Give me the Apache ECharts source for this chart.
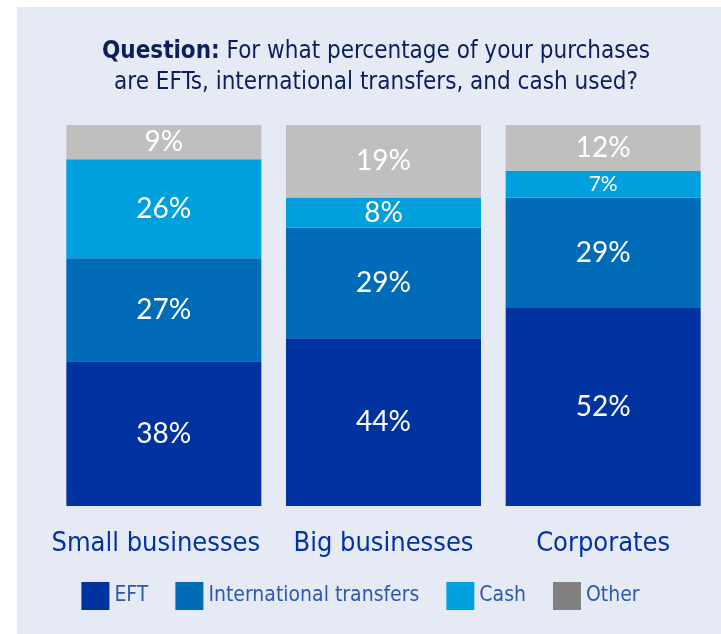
<!DOCTYPE html>
<html>
<head>
<meta charset="utf-8">
<script src="https://cdn.jsdelivr.net/npm/echarts@6/dist/echarts.min.js"></script>
<style>
  html, body { margin: 0; padding: 0; background: #ffffff; }
  #chart { width: 721px; height: 634px; }
</style>
</head>
<body>
<div id="chart"></div>
<script>
// Survey segments and their shares (percent of purchases)
const categories = ['Small businesses', 'Big businesses', 'Corporates'];
const eft = [38, 44, 52];
const international = [27, 29, 29];
const cash = [26, 8, 7];
const other = [9, 19, 12];

const seriesNames = ['EFT', 'International transfers', 'Cash', 'Other'];
const barColors = ['#0033a0', '#006bb6', '#00a0df', '#bfbfbf'];
const legendColors = ['#0033a0', '#006bb6', '#00a0df', '#808080'];
const seriesValues = [eft, international, cash, other];

const chart = echarts.init(document.getElementById('chart'), null, { renderer: 'canvas' });

const labelFont = 'Lato, "Open Sans", sans-serif';
const narrowFont = '"Liberation Sans Narrow", "DejaVu Sans Condensed", "Roboto", sans-serif';

const series = seriesNames.map((name, i) => ({
  name: name,
  type: 'bar',
  stack: 'total',
  barWidth: 195,
  itemStyle: { color: barColors[i] },
  label: {
    show: true,
    position: 'inside',
    color: '#ffffff',
    fontFamily: labelFont,
    fontWeight: 'normal',
    fontSize: 28,
    formatter: p => p.value + '%'
  },
  data: seriesValues[i].map(v => (v < 8 ? { value: v, label: { fontSize: 21 } } : v))
}));

// The first category label sits slightly left of its bar centre
const categoryData = categories.map((c, i) =>
  i === 0 ? { value: c, textStyle: { padding: [0, 16, 0, 0] } } : c
);

chart.setOption({
  backgroundColor: '#ffffff',
  animation: false,
  graphic: [{
    type: 'rect',
    z: -10,
    shape: { x: 17, y: 7, width: 704, height: 627 },
    style: { fill: '#e6eaf5' }
  }],
  title: {
    left: 371,
    top: 31,
    textAlign: 'center',
    text: '{b|Question:} For what percentage of your purchases\nare EFTs, international transfers, and cash used?',
    textStyle: {
      fontFamily: narrowFont,
      fontSize: 24,
      fontWeight: 'normal',
      color: '#0d1f5a',
      lineHeight: 31,
      rich: {
        b: { fontFamily: narrowFont, fontSize: 24, fontWeight: 'bold', color: '#0d1f5a', lineHeight: 31 }
      }
    }
  },
  legend: {
    bottom: 19,
    left: 'center',
    icon: 'rect',
    itemWidth: 28,
    itemHeight: 28,
    itemGap: 27,
    textStyle: { fontFamily: narrowFont, fontSize: 21, color: '#2a5ab0' },
    data: seriesNames.map((n, i) => ({ name: n, itemStyle: { color: legendColors[i] } }))
  },
  grid: { left: 54, right: 8, top: 125, bottom: 128, containLabel: false },
  xAxis: {
    type: 'category',
    data: categoryData,
    axisLine: { show: false },
    axisTick: { show: false },
    axisLabel: {
      interval: 0,
      hideOverlap: false,
      margin: 24,
      fontFamily: narrowFont,
      fontSize: 27,
      color: '#0033a0'
    }
  },
  yAxis: {
    type: 'value',
    min: 0,
    max: 100,
    show: false
  },
  series: series
});
</script>
</body>
</html>
